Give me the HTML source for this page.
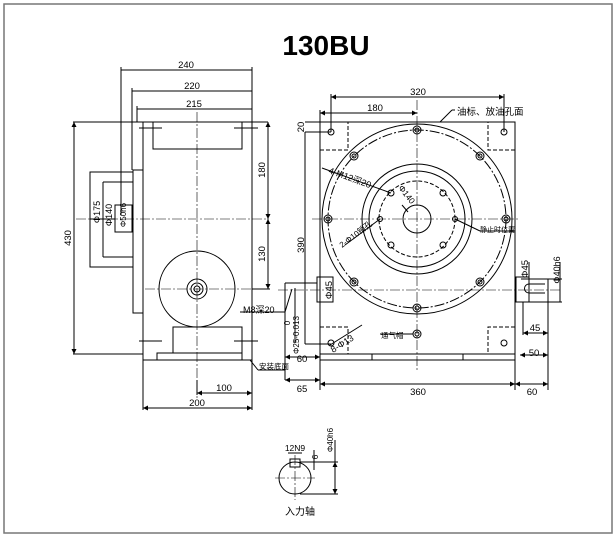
<!DOCTYPE html>
<html><head><meta charset="utf-8"><style>
html,body{margin:0;padding:0;background:#fff;}
svg{display:block;}
text{font-family:"Liberation Sans","Noto Sans CJK SC",sans-serif;fill:#000;}
</style></head><body>
<svg width="616" height="537" viewBox="0 0 616 537" xmlns="http://www.w3.org/2000/svg">
<defs>
<marker id="a" viewBox="0 0 6 6" refX="6" refY="3" markerWidth="5" markerHeight="5" orient="auto-start-reverse"><path d="M0,0L6,3L0,6z" fill="#000"/></marker>
</defs>
<rect x="4" y="4" width="608" height="529" fill="none" stroke="#777" stroke-width="1.5"/>
<text x="326" y="55" font-size="28" font-weight="bold" text-anchor="middle">130BU</text>

<g stroke="#000" stroke-width="1" fill="none">
<line x1="121" y1="70" x2="252" y2="70"/><line x1="121" y1="67" x2="121" y2="215"/><line x1="252" y1="67" x2="252" y2="122"/>
<line x1="132" y1="91" x2="252" y2="91"/><line x1="132" y1="88" x2="132" y2="170"/>
<line x1="137" y1="109" x2="252" y2="109"/><line x1="137" y1="106" x2="137" y2="122"/>
<line x1="73" y1="122" x2="268" y2="122"/>
<rect x="143" y="122" width="109" height="238"/>
<rect x="153" y="122" width="89" height="27"/>
<rect x="173" y="327" width="69" height="26"/>
<rect x="157" y="353" width="85" height="7"/>
<line x1="73" y1="354" x2="143" y2="354"/>
<rect x="133" y="170" width="10" height="143"/>
<rect x="90" y="172" width="43" height="95"/>
<line x1="103" y1="182" x2="133" y2="182"/><line x1="103" y1="182" x2="103" y2="257"/><line x1="103" y1="257" x2="133" y2="257"/>
<rect x="115" y="205" width="17" height="27"/>
<line x1="74" y1="122" x2="74" y2="354" marker-start="url(#a)" marker-end="url(#a)"/>
<line x1="268" y1="122" x2="268" y2="289"/>
<line x1="268" y1="122" x2="268" y2="219" marker-start="url(#a)" marker-end="url(#a)"/>
<line x1="268" y1="219" x2="268" y2="289" marker-start="url(#a)" marker-end="url(#a)"/>
<line x1="252" y1="289" x2="270" y2="289"/>
<circle cx="197" cy="289" r="38"/><circle cx="197" cy="289" r="10"/><circle cx="197" cy="289" r="6"/><circle cx="197" cy="289" r="3"/>
<line x1="143" y1="360" x2="143" y2="410"/><line x1="252" y1="360" x2="252" y2="410"/>
<line x1="197" y1="380" x2="197" y2="395"/>
<line x1="197" y1="393" x2="252" y2="393" marker-start="url(#a)" marker-end="url(#a)"/>
<line x1="143" y1="408" x2="252" y2="408" marker-start="url(#a)" marker-end="url(#a)"/>
<line x1="139" y1="128" x2="162" y2="128"/><line x1="234" y1="128" x2="258" y2="128"/>
<line x1="139" y1="341" x2="162" y2="341"/><line x1="234" y1="341" x2="258" y2="341"/>
<line x1="90" y1="219" x2="115" y2="219"/>
<line x1="250" y1="360" x2="258" y2="370"/><line x1="258" y1="370" x2="285" y2="370"/>
<line x1="240" y1="312" x2="285" y2="312"/><line x1="285" y1="312" x2="292" y2="289"/>

<rect x="320" y="122" width="195" height="232"/>
<rect x="372" y="354" width="91" height="6"/>
<line x1="320" y1="360" x2="515" y2="360"/>
<line x1="331" y1="97" x2="504" y2="97" marker-start="url(#a)" marker-end="url(#a)"/>
<line x1="331" y1="94" x2="331" y2="132"/><line x1="504" y1="94" x2="504" y2="132"/>
<line x1="320" y1="113" x2="417" y2="113" marker-start="url(#a)" marker-end="url(#a)"/>
<line x1="320" y1="110" x2="320" y2="122"/>
<line x1="305" y1="122" x2="320" y2="122"/><line x1="305" y1="132" x2="331" y2="132"/>
<line x1="305" y1="132" x2="305" y2="344"/><line x1="305" y1="344" x2="331" y2="344"/>
<circle cx="417" cy="219" r="95"/>
<circle cx="417" cy="219" r="55"/><circle cx="417" cy="219" r="48"/>
<circle cx="417" cy="219" r="14"/>
<circle cx="331" cy="132" r="3"/><circle cx="504" cy="132" r="3"/><circle cx="331" cy="343" r="3"/><circle cx="504" cy="343" r="3"/>
<g stroke-dasharray="4,2">
<polyline points="320,150 348,150 348,122"/><polyline points="515,150 488,150 488,122"/>
<polyline points="320,327 348,327 348,354"/><polyline points="515,327 488,327 488,354"/>
<circle cx="417" cy="219" r="38"/>
</g>
<circle cx="417" cy="219" r="89" stroke-dasharray="10,2,2,2"/>
<g>
<circle cx="417" cy="130" r="4"/><circle cx="417" cy="308" r="4"/><circle cx="328" cy="219" r="4"/><circle cx="506" cy="219" r="4"/>
<circle cx="354" cy="156" r="4"/><circle cx="480" cy="156" r="4"/><circle cx="354" cy="282" r="4"/><circle cx="480" cy="282" r="4"/>
<circle cx="417" cy="130" r="2"/><circle cx="417" cy="308" r="2"/><circle cx="328" cy="219" r="2"/><circle cx="506" cy="219" r="2"/>
<circle cx="354" cy="156" r="2"/><circle cx="480" cy="156" r="2"/><circle cx="354" cy="282" r="2"/><circle cx="480" cy="282" r="2"/>
<circle cx="391" cy="193" r="3"/><circle cx="443" cy="193" r="3"/><circle cx="391" cy="245" r="3"/><circle cx="443" cy="245" r="3"/>
<circle cx="380" cy="219" r="2.5"/><circle cx="455" cy="219" r="2.5"/>
<circle cx="417" cy="334" r="4"/><circle cx="417" cy="334" r="2"/>
</g>
<rect x="317" y="277" width="16" height="25"/>
<line x1="285" y1="283" x2="317" y2="283"/><line x1="285" y1="283" x2="285" y2="380"/>
<line x1="295" y1="288" x2="295" y2="343"/>
<line x1="285" y1="357" x2="320" y2="357" marker-start="url(#a)" marker-end="url(#a)"/>
<line x1="285" y1="380" x2="320" y2="380" marker-start="url(#a)" marker-end="url(#a)"/>
<line x1="320" y1="354" x2="320" y2="390"/>
<rect x="516" y="277" width="13" height="25"/>
<line x1="521" y1="279" x2="548" y2="279"/><line x1="521" y1="302" x2="548" y2="302"/>
<line x1="548" y1="279" x2="548" y2="360"/><line x1="523" y1="302" x2="523" y2="335"/>
<path d="M545,284 L529,284 A4.5,4.5 0 0 0 529,293 L545,293"/>
<line x1="560" y1="262" x2="560" y2="302"/>
<line x1="548" y1="279" x2="562" y2="279"/><line x1="548" y1="302" x2="562" y2="302"/>
<line x1="529" y1="262" x2="529" y2="277"/>
<line x1="523" y1="333" x2="548" y2="333" marker-start="url(#a)" marker-end="url(#a)"/>
<line x1="520" y1="355" x2="548" y2="355" marker-start="url(#a)" marker-end="url(#a)"/>
<line x1="515" y1="354" x2="515" y2="390"/><line x1="548" y1="360" x2="548" y2="390"/>
<line x1="320" y1="384" x2="515" y2="384" marker-start="url(#a)" marker-end="url(#a)"/>
<line x1="515" y1="384" x2="548" y2="384" marker-start="url(#a)" marker-end="url(#a)"/>
<line x1="440" y1="122" x2="452" y2="110"/><line x1="452" y1="110" x2="455" y2="110"/>
<line x1="322" y1="168" x2="391" y2="193"/>
<line x1="345" y1="245" x2="380" y2="219"/>
<line x1="455" y1="219" x2="480" y2="231"/><line x1="480" y1="231" x2="515" y2="231"/>
<line x1="330" y1="345" x2="362" y2="325"/>
<line x1="380" y1="334" x2="413" y2="334"/>
<line x1="402" y1="205" x2="408" y2="212"/>

<circle cx="295" cy="478" r="16"/>
<rect x="290" y="459" width="10" height="8"/>
<line x1="300" y1="462" x2="338" y2="462"/><line x1="300" y1="494" x2="338" y2="494"/>
<line x1="335" y1="440" x2="335" y2="494" marker-end="url(#a)"/>
<line x1="335" y1="462" x2="335" y2="465" marker-start="url(#a)"/>
<line x1="314" y1="450" x2="314" y2="470"/>
<line x1="288" y1="453" x2="302" y2="453"/>
</g>
<g stroke="#000" stroke-width="0.6" stroke-dasharray="10,2,2,2" fill="none">
<line x1="197" y1="112" x2="197" y2="400"/>
<line x1="76" y1="219" x2="268" y2="219"/>
<line x1="145" y1="289" x2="252" y2="289"/>
<line x1="417" y1="100" x2="417" y2="370"/>
<line x1="312" y1="219" x2="520" y2="219"/>
<line x1="278" y1="290" x2="560" y2="290"/>
<line x1="275" y1="478" x2="315" y2="478"/>
<line x1="295" y1="455" x2="295" y2="500"/>
</g>

<g font-size="9.5">
<text x="186" y="68" text-anchor="middle">240</text>
<text x="192" y="89" text-anchor="middle">220</text>
<text x="194" y="107" text-anchor="middle">215</text>
<text x="224" y="391" text-anchor="middle">100</text>
<text x="197" y="406" text-anchor="middle">200</text>
<text transform="translate(71,238) rotate(-90)" text-anchor="middle">430</text>
<text transform="translate(265,170) rotate(-90)" text-anchor="middle">180</text>
<text transform="translate(265,254) rotate(-90)" text-anchor="middle">130</text>
<text transform="translate(100,212) rotate(-90)" text-anchor="middle" font-size="9">Φ175</text>
<text transform="translate(112,215) rotate(-90)" text-anchor="middle" font-size="9">Φ140</text>
<text transform="translate(126,215) rotate(-90)" text-anchor="middle" font-size="8">Φ50h6</text>
<text x="243" y="313" font-size="9">M8深20</text>
<text x="259" y="369" font-size="7.5">安装底面</text>
<text x="418" y="95" text-anchor="middle">320</text>
<text x="375" y="111" text-anchor="middle">180</text>
<text x="457" y="115" font-size="9.5">油标、放油孔面</text>
<text transform="translate(304,127) rotate(-90)" text-anchor="middle">20</text>
<text transform="translate(304,245) rotate(-90)" text-anchor="middle">390</text>
<text transform="translate(328,173) rotate(20)" font-size="9">4-M12深20</text>
<text transform="translate(398,188) rotate(52)" font-size="8.5">Φ140</text>
<text transform="translate(342,248) rotate(-37)" font-size="8">2-Φ10销孔</text>
<text x="480" y="232" font-size="7">静止时位置</text>
<text transform="translate(333,353) rotate(-32)" font-size="9">8-Φ13</text>
<text x="381" y="338" font-size="7.5">通气帽</text>
<text transform="translate(332,290) rotate(-90)" text-anchor="middle">Φ45</text>
<text transform="translate(528,269) rotate(-90)" text-anchor="middle">Φ45</text>
<text transform="translate(560,270) rotate(-90)" text-anchor="middle" font-size="9">Φ40h6</text>
<text transform="translate(299,335) rotate(-90)" text-anchor="middle" font-size="8">Φ25-0.013</text>
<text transform="translate(290,323) rotate(-90)" text-anchor="middle" font-size="8">0</text>
<text x="302" y="362" text-anchor="middle">60</text>
<text x="302" y="392" text-anchor="middle">65</text>
<text x="418" y="395" text-anchor="middle">360</text>
<text x="535" y="331" text-anchor="middle">45</text>
<text x="534" y="356" text-anchor="middle">50</text>
<text x="532" y="395" text-anchor="middle">60</text>
<text x="295" y="451" text-anchor="middle" font-size="8.5">12N9</text>
<text transform="translate(318,457) rotate(-90)" text-anchor="middle" font-size="8">6</text>
<text transform="translate(333,440) rotate(-90)" text-anchor="middle" font-size="8">Φ40h6</text>
<text x="300" y="515" text-anchor="middle" font-size="10">入力轴</text>
</g>
</svg>
</body></html>
